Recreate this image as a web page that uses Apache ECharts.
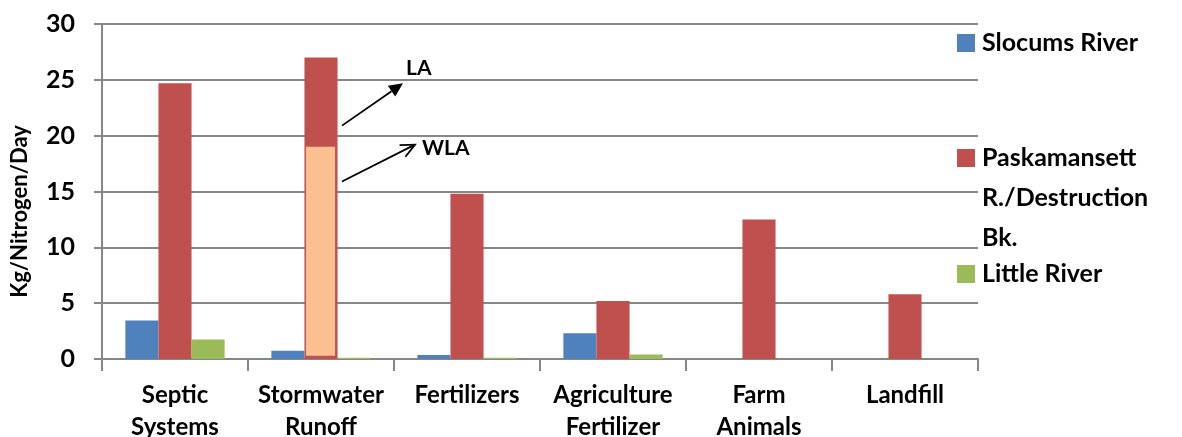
<!DOCTYPE html>
<html><head><meta charset="utf-8">
<script src="https://cdn.jsdelivr.net/npm/echarts@6/dist/echarts.min.js"></script>
<style>html,body{margin:0;padding:0;background:#fff}#c{width:1182px;height:437px}</style>
</head><body><div id="c"></div>
<script>
// ---- data ----
const categories = ['Septic\nSystems', 'Stormwater\nRunoff', 'Fertilizers', 'Agriculture\nFertilizer', 'Farm\nAnimals', 'Landfill'];
const seriesNames = ['Slocums River', 'Paskamansett R./Destruction Bk.', 'Little River'];
const slocums = [3.45, 0.75, 0.35, 2.3, 0, 0];
const paskamansett = [24.7, 27.0, 14.8, 5.2, 12.5, 5.8];
const little = [1.75, 0.12, 0.12, 0.4, 0, 0];
const wlaCategory = 1;           // Stormwater Runoff
const wlaRange = [0.3, 19.0];    // WLA portion of the Paskamansett bar
const yTicks = [0, 5, 10, 15, 20, 25, 30];
// annotation arrows: [category, fromValue, toValue, labelValue]
const laArrow = [1, 20.9, 24.7, 26.0];
const wlaArrow = [1, 15.9, 19.2, 18.9];

// ---- style ----
const FONT = 'Lato';
const GRAY = '#878787';
const COLORS = ['#4F81BD', '#C0504D', '#9BBB59'];
const CAT_GAP = 0.32;

const chart = echarts.init(document.getElementById('c'), null, {renderer: 'canvas'});

function barGeom(api, x) {
  const W = api.size([1, 0])[0];
  const bw = W * (1 - CAT_GAP) / 3;
  const cx = api.coord([x, 0])[0];
  return {cx: cx, bw: bw};
}

const annotations = [
  {arrow: laArrow, text: 'LA', dx0: 21, dx1: 82, tdx: 85, filled: true},
  {arrow: wlaArrow, text: 'WLA', dx0: 21, dx1: 94, tdx: 101, filled: false}
];

const legendText = {fontFamily: FONT, fontWeight: 'bold', fontSize: 25, color: '#000', padding: [0, 0, 0, 2]};

const option = {
  animation: false,
  backgroundColor: '#fff',
  textStyle: {fontFamily: FONT},
  grid: {left: 102, right: 204, top: 24, bottom: 78, containLabel: false, outerBoundsMode: 'none'},
  legend: [
    {data: [seriesNames[0]], orient: 'vertical', left: 957, top: 28, padding: 0,
     icon: 'rect', itemWidth: 18, itemHeight: 18, itemGap: 0, selectedMode: false,
     textStyle: Object.assign({lineHeight: 30}, legendText)},
    {data: [seriesNames[1]], orient: 'vertical', left: 957, top: 58, padding: 0,
     icon: 'rect', itemWidth: 18, itemHeight: 18, itemGap: 0, selectedMode: false,
     formatter: function () { return '\n\nPaskamansett\nR./Destruction\nBk.'; },
     textStyle: Object.assign({lineHeight: 40}, legendText)},
    {data: [seriesNames[2]], orient: 'vertical', left: 957, top: 259, padding: 0,
     icon: 'rect', itemWidth: 18, itemHeight: 18, itemGap: 0, selectedMode: false,
     textStyle: Object.assign({lineHeight: 30}, legendText)}
  ],
  xAxis: {
    type: 'category',
    data: categories,
    axisLine: {lineStyle: {color: GRAY, width: 2}},
    axisTick: {show: true, length: 12, lineStyle: {color: GRAY, width: 2}},
    axisLabel: {fontFamily: FONT, fontWeight: 'bold', fontSize: 24, color: '#000', lineHeight: 32.5, margin: 20, interval: 0}
  },
  yAxis: {
    type: 'value', min: yTicks[0], max: yTicks[yTicks.length - 1], interval: yTicks[1] - yTicks[0],
    name: 'Kg/Nitrogen/Day', nameLocation: 'middle', nameRotate: 90, nameGap: 71,
    nameTextStyle: {fontFamily: FONT, fontWeight: 'bold', fontSize: 22, color: '#000', padding: [0, 40, 0, 0]},
    axisLine: {show: true, lineStyle: {color: GRAY, width: 2}},
    axisTick: {show: true, length: 8, lineStyle: {color: GRAY, width: 2}},
    splitLine: {show: true, lineStyle: {color: GRAY, width: 2}},
    axisLabel: {fontFamily: FONT, fontWeight: 'bold', fontSize: 25, color: '#000', margin: 27}
  },
  series: [
    {name: seriesNames[0], type: 'bar', data: slocums, barGap: '0%', barCategoryGap: (CAT_GAP * 100) + '%',
     itemStyle: {color: COLORS[0]}},
    {name: seriesNames[1], type: 'bar', data: paskamansett, itemStyle: {color: COLORS[1]}},
    {name: seriesNames[2], type: 'bar', data: little, itemStyle: {color: COLORS[2]}},
    {type: 'custom', z: 5, silent: true,
     data: [[wlaCategory, wlaRange[0], wlaRange[1]]],
     encode: {x: 0, y: [1, 2]},
     renderItem: function (params, api) {
       const x = api.value(0);
       const g = barGeom(api, x);
       const yLo = api.coord([x, api.value(1)])[1];
       const yHi = api.coord([x, api.value(2)])[1];
       const l = g.cx - g.bw / 2 + 1.5, r = g.cx + g.bw / 2 - 2.5;
       return {type: 'rect', shape: {x: l, y: yHi, width: r - l, height: yLo - yHi},
               style: {fill: '#FAC090'}};
     }},
    {type: 'custom', z: 6, silent: true,
     data: annotations.map(function (a, i) { return [a.arrow[0], a.arrow[1], a.arrow[2], a.arrow[3], i]; }),
     encode: {x: 0, y: [1, 2]},
     renderItem: function (params, api) {
       const a = annotations[api.value(4)];
       const x = api.value(0);
       const cx = api.coord([x, 0])[0];
       const p0 = [cx + a.dx0, api.coord([x, api.value(1)])[1]];
       const p1 = [cx + a.dx1, api.coord([x, api.value(2)])[1]];
       const ty = api.coord([x, api.value(3)])[1];
       const ang = Math.atan2(p1[1] - p0[1], p1[0] - p0[0]);
       const hl = 14, hw = 6.5;
       const bx = p1[0] - hl * Math.cos(ang), by = p1[1] - hl * Math.sin(ang);
       const nx = -Math.sin(ang) * hw, ny = Math.cos(ang) * hw;
       const children = [];
       if (a.filled) {
         children.push({type: 'line', shape: {x1: p0[0], y1: p0[1], x2: bx, y2: by}, style: {stroke: '#000', lineWidth: 1.8}});
         children.push({type: 'polygon', shape: {points: [[p1[0], p1[1]], [bx + nx, by + ny], [bx - nx, by - ny]]}, style: {fill: '#000'}});
       } else {
         children.push({type: 'line', shape: {x1: p0[0], y1: p0[1], x2: p1[0], y2: p1[1]}, style: {stroke: '#000', lineWidth: 1.8}});
         children.push({type: 'polyline', shape: {points: [[bx + nx, by + ny], [p1[0], p1[1]], [bx - nx, by - ny]]}, style: {stroke: '#000', lineWidth: 1.8, fill: null}});
       }
       children.push({type: 'text', x: cx + a.tdx, y: ty,
         style: {text: a.text, fill: '#000', font: 'bold 21px ' + FONT, textAlign: 'left', textVerticalAlign: 'middle'}});
       return {type: 'group', children: children};
     }}
  ]
};
chart.setOption(option);
</script>
</body></html>
